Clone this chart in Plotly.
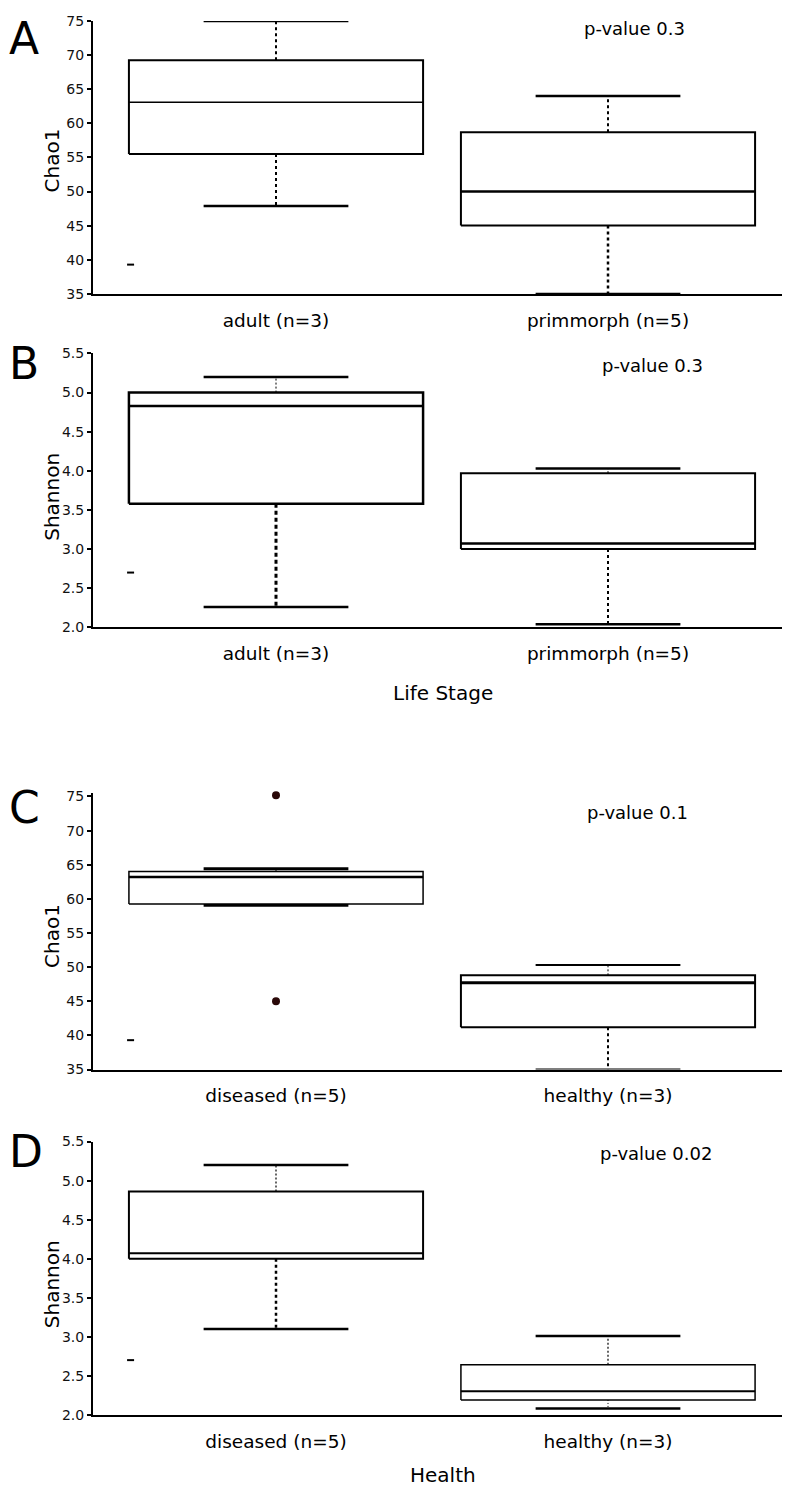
import plotly.graph_objects as go

# ---------------- data ----------------
lifestage_groups = ["adult (n=3)", "primmorph (n=5)"]
health_groups = ["diseased (n=5)", "healthy (n=3)"]

# Panel A: Chao1 by life stage
chao1_life_lowcap = [47.9, 35.0]
chao1_life_q1 = [55.5, 45.05]
chao1_life_median = [63.1, 50.0]
chao1_life_q3 = [69.25, 58.7]
chao1_life_upcap = [75.0, 64.0]

# Panel B: Shannon by life stage
shannon_life_lowcap = [2.26, 2.04]
shannon_life_q1 = [3.58, 3.0]
shannon_life_median = [4.83, 3.07]
shannon_life_q3 = [5.0, 3.97]
shannon_life_upcap = [5.2, 4.03]

# Panel C: Chao1 by health
chao1_health_lowcap = [59.06, 35.0]
chao1_health_q1 = [59.25, 41.2]
chao1_health_median = [63.2, 47.7]
chao1_health_q3 = [64.0, 48.8]
chao1_health_upcap = [64.4, 50.3]
chao1_health_outliers = [[75.2, 45.0], []]

# Panel D: Shannon by health
shannon_health_lowcap = [3.1, 2.08]
shannon_health_q1 = [4.0, 2.19]
shannon_health_median = [4.07, 2.3]
shannon_health_q3 = [4.86, 2.64]
shannon_health_upcap = [5.2, 3.01]

# stray dash marks seen at the left of each panel
stray_values = [39.3, 2.7, 39.3, 2.7]

p_values = ["p-value 0.3", "p-value 0.3", "p-value 0.1", "p-value 0.02"]
panel_letters = ["A", "B", "C", "D"]
y_titles = ["Chao1", "Shannon", "Chao1", "Shannon"]
x_titles = ["Life Stage", "Health"]

# ---------------- layout constants (page pixels) ----------------
OFF = 8                      # default body margin of the html page
W, H = 790 - 2 * OFF, 1500 - 2 * OFF
FONT = "DejaVu Sans"
BOX_HALF = 0.443
CAP_HALF = 0.218


def fx(x):
    return (x - OFF) / W


def fy(y):
    return 1 - (y - OFF) / H


# x axis: category 0 centred at page x 276, category 1 at 608
AX_LEFT, AX_RIGHT = 93, OFF + W
C0, C1 = 276, 608
PPU_X = C1 - C0
X_RANGE = [(AX_LEFT - C0) / PPU_X, 1 + (AX_RIGHT - C1) / PPU_X]
X_DOMAIN = [fx(AX_LEFT), fx(AX_RIGHT)]


def ydom(bottom_px, px_per_unit, yr):
    top_px = bottom_px - (yr[1] - yr[0]) * px_per_unit
    return [fy(bottom_px), fy(top_px)]


panels = [
    dict(groups=lifestage_groups, low=chao1_life_lowcap, q1=chao1_life_q1, med=chao1_life_median,
         q3=chao1_life_q3, up=chao1_life_upcap, out=[[], []], yr=[35, 75], dtick=5, fmt="d",
         bot=289, ppu=6.9, box_w=[2, 2], med_w=[1.5, 2.5], cap_w=[2.5, 2.5],
         up_wh=[(2, "3px,3px"), (2, "3px,3px")], lo_wh=[(2, "3px,3px"), (2.5, "3px,3px")],
         letter_top=4, ytitle_y=154, p_xy=(634, 21)),
    dict(groups=lifestage_groups, low=shannon_life_lowcap, q1=shannon_life_q1, med=shannon_life_median,
         q3=shannon_life_q3, up=shannon_life_upcap, out=[[], []], yr=[2.0, 5.5], dtick=0.5, fmt=".1f",
         bot=626, ppu=79.1, box_w=[2.5, 2], med_w=[2.5, 2.5], cap_w=[2.5, 2.5],
         up_wh=[(1, "2px,2px"), (1, "2px,2px")], lo_wh=[(3, "4px,3px"), (2, "3px,3px")],
         letter_top=333, ytitle_y=494, p_xy=(652, 361)),
    dict(groups=health_groups, low=chao1_health_lowcap, q1=chao1_health_q1, med=chao1_health_median,
         q3=chao1_health_q3, up=chao1_health_upcap, out=chao1_health_outliers, yr=[35, 75.45], dtick=5, fmt="d",
         bot=1073, ppu=6.9, box_w=[1.5, 2], med_w=[2.5, 3], cap_w=[3, 2],
         up_wh=[(1, "2px,2px"), (1, "2px,2px")], lo_wh=[(1.5, "3px,3px"), (2, "3px,3px")],
         letter_top=781, ytitle_y=938, p_xy=(637, 813)),
    dict(groups=health_groups, low=shannon_health_lowcap, q1=shannon_health_q1, med=shannon_health_median,
         q3=shannon_health_q3, up=shannon_health_upcap, out=[[], []], yr=[2.0, 5.5], dtick=0.5, fmt=".1f",
         bot=1422, ppu=78.9, box_w=[2, 1.5], med_w=[2, 2], cap_w=[2.5, 2.5],
         up_wh=[(1.2, "2px,2px"), (1.2, "2px,2px")], lo_wh=[(2.5, "3px,3px"), (1, "1px,2px")],
         letter_top=1129, ytitle_y=1290, p_xy=(656, 1158)),
]

fig = go.Figure()
layout = dict(
    width=W, height=H, autosize=False,
    margin=dict(l=0, r=0, t=0, b=0),
    paper_bgcolor="white", plot_bgcolor="white",
    showlegend=False,
    font=dict(family=FONT, color="black"),
)
annotations = []

for k, p in enumerate(panels):
    n = k + 1
    xa = "x" if n == 1 else f"x{n}"
    ya = "y" if n == 1 else f"y{n}"
    for i in range(len(p["groups"])):
        xl, xr = i - BOX_HALF, i + BOX_HALF
        cl, cr = i - CAP_HALF, i + CAP_HALF
        # whiskers (dashed)
        w, d = p["up_wh"][i]
        fig.add_trace(go.Scatter(x=[i, i], y=[p["q3"][i], p["up"][i]], mode="lines", xaxis=xa, yaxis=ya,
                                 line=dict(color="black", width=w, dash=d), cliponaxis=False, hoverinfo="skip"))
        w, d = p["lo_wh"][i]
        fig.add_trace(go.Scatter(x=[i, i], y=[p["q1"][i], p["low"][i]], mode="lines", xaxis=xa, yaxis=ya,
                                 line=dict(color="black", width=w, dash=d), cliponaxis=False, hoverinfo="skip"))
        # caps
        fig.add_trace(go.Scatter(x=[cl, cr, None, cl, cr], y=[p["up"][i], p["up"][i], None, p["low"][i], p["low"][i]],
                                 mode="lines", xaxis=xa, yaxis=ya,
                                 line=dict(color="black", width=p["cap_w"][i]), cliponaxis=False, hoverinfo="skip"))
        # box
        fig.add_trace(go.Scatter(x=[xl, xr, xr, xl, xl], y=[p["q1"][i], p["q1"][i], p["q3"][i], p["q3"][i], p["q1"][i]],
                                 mode="lines", xaxis=xa, yaxis=ya, fill="toself", fillcolor="white",
                                 line=dict(color="black", width=p["box_w"][i]), cliponaxis=False, hoverinfo="skip"))
        # median
        fig.add_trace(go.Scatter(x=[xl, xr], y=[p["med"][i], p["med"][i]], mode="lines", xaxis=xa, yaxis=ya,
                                 line=dict(color="black", width=p["med_w"][i]), cliponaxis=False, hoverinfo="skip"))
        # outliers
        if p["out"][i]:
            fig.add_trace(go.Scatter(x=[i] * len(p["out"][i]), y=p["out"][i], mode="markers", xaxis=xa, yaxis=ya,
                                     marker=dict(color="#2a0808", size=8), cliponaxis=False, hoverinfo="skip"))
    # stray dash mark at left box edge of first group
    fig.add_trace(go.Scatter(x=[-BOX_HALF + 0.005], y=[stray_values[k]], mode="markers", xaxis=xa, yaxis=ya,
                             marker=dict(symbol="line-ew", size=5, line=dict(color="black", width=2)),
                             cliponaxis=False, hoverinfo="skip"))

    layout["xaxis" if n == 1 else f"xaxis{n}"] = dict(
        domain=X_DOMAIN, range=X_RANGE, anchor=ya, showline=True, linecolor="black", linewidth=1.5,
        tickmode="array", tickvals=[0, 1], ticktext=p["groups"], ticks="", ticklabelstandoff=9,
        tickfont=dict(size=18.5, family=FONT, color="black"), showgrid=False, zeroline=False, fixedrange=True,
    )
    layout["yaxis" if n == 1 else f"yaxis{n}"] = dict(
        domain=ydom(p["bot"], p["ppu"], p["yr"]), range=p["yr"], anchor=xa, showline=True,
        linecolor="black", linewidth=2,
        ticks="outside", ticklen=4, tickwidth=1.5, tickcolor="black", dtick=p["dtick"], tick0=0,
        tickformat=p["fmt"], tickfont=dict(size=14, family=FONT, color="#111"),
        showgrid=False, zeroline=False, fixedrange=True,
    )

    annotations.append(dict(text=panel_letters[k], xref="paper", yref="paper", x=fx(OFF), y=fy(p["letter_top"]),
                            xanchor="left", yanchor="top", showarrow=False, borderpad=0,
                            font=dict(size=44, family=FONT, color="black")))
    annotations.append(dict(text=y_titles[k], xref="paper", yref="paper", x=fx(52), y=fy(p["ytitle_y"]),
                            xanchor="center", yanchor="middle", textangle=-90, showarrow=False,
                            font=dict(size=20, family=FONT, color="black")))
    px_, py_ = p["p_xy"]
    annotations.append(dict(text=p_values[k], xref="paper", yref="paper", x=fx(px_), y=fy(py_),
                            xanchor="center", yanchor="middle", showarrow=False,
                            font=dict(size=18, family=FONT, color="black")))

annotations.append(dict(text=x_titles[0], xref="paper", yref="paper", x=fx(443), y=fy(692),
                        xanchor="center", yanchor="middle", showarrow=False, font=dict(size=20, family=FONT)))
annotations.append(dict(text=x_titles[1], xref="paper", yref="paper", x=fx(443), y=fy(1483),
                        xanchor="center", yanchor="middle", showarrow=False, font=dict(size=20, family=FONT)))

layout["annotations"] = annotations
fig.update_layout(**layout)
fig.write_html("out.html", config={"displayModeBar": False})
